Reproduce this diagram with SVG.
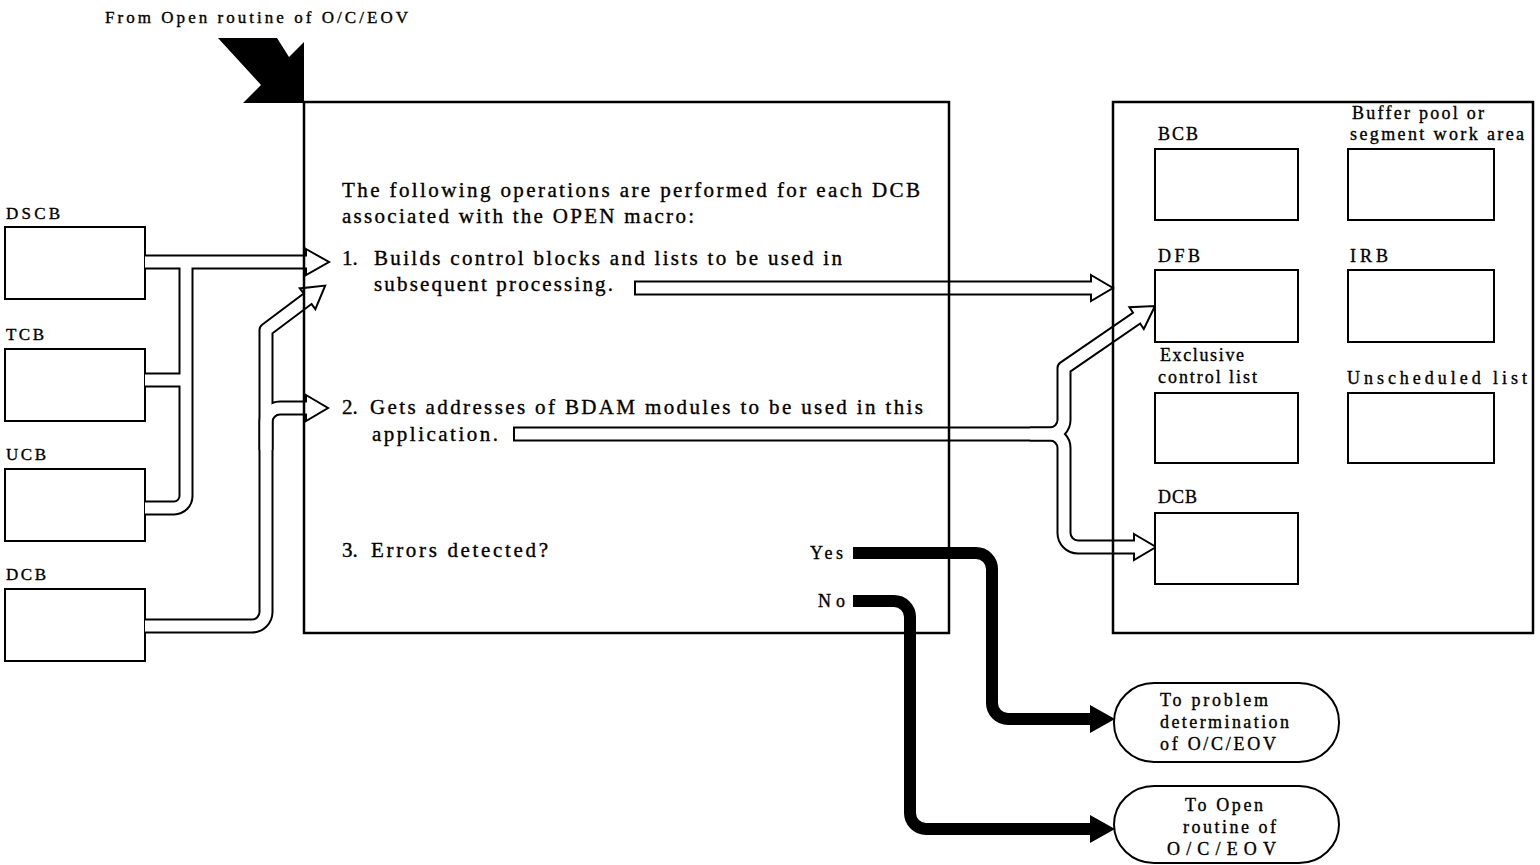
<svg xmlns="http://www.w3.org/2000/svg" width="1540" height="865" viewBox="0 0 1540 865">
<style>
text{font-family:"Liberation Serif","Times New Roman",serif;fill:#000;stroke:#000;stroke-width:0.35}
.t{font-size:21px}
.s{font-size:17px}
.m{font-size:18px}
.box{fill:none;stroke:#000;stroke-width:2.5}
.ib{fill:#fff;stroke:#000;stroke-width:2}
.po{fill:none;stroke:#000;stroke-width:15;stroke-linejoin:round}
.pi{fill:none;stroke:#fff;stroke-width:11;stroke-linejoin:round}
.hd{fill:#fff;stroke:#000;stroke-width:2;stroke-linejoin:miter}
.th{fill:none;stroke:#000;stroke-width:12}
.tk{fill:#000;stroke:none}
</style>
<rect width="1540" height="865" fill="#fff"/>

<text class="s" x="105" y="23" textLength="303" lengthAdjust="spacing">From Open routine of O/C/EOV</text>
<polygon id="entry-arrow" class="tk" points="218,38 277,38 289,57 304,42 304,103 243,103 261,85"/>

<g id="left-blocks">
  <g id="dscb"><text class="s" x="6" y="219" textLength="54" lengthAdjust="spacing">DSCB</text><rect class="ib" x="5" y="227" width="140" height="72"/></g>
  <g id="tcb"><text class="s" x="6" y="340" textLength="38" lengthAdjust="spacing">TCB</text><rect class="ib" x="5" y="349" width="140" height="72"/></g>
  <g id="ucb"><text class="s" x="6" y="460" textLength="40" lengthAdjust="spacing">UCB</text><rect class="ib" x="5" y="469" width="140" height="72"/></g>
  <g id="dcb-in"><text class="s" x="6" y="580" textLength="40" lengthAdjust="spacing">DCB</text><rect class="ib" x="5" y="589" width="140" height="72"/></g>
</g>

<g id="connectors">
  <g class="po">
    <path d="M145,262 H306"/>
    <path d="M145,380 H186"/>
    <path d="M186,262 V496 A12,12 0 0 1 174,508 H145"/>
    <path d="M145,626 H252 A14,14 0 0 0 266,612 V330 L307.6,298.8"/>
    <path d="M266,450 V422 A14,14 0 0 1 280,408 H306"/>
    <path d="M634,288 H1091"/>
    <path d="M513,434 H1050 A14,14 0 0 0 1064,420 V368 L1136.6,318.1"/>
    <path d="M1030,434 H1050 A14,14 0 0 1 1064,448 V533 A14,14 0 0 0 1078,547 H1134"/>
  </g>
  <polygon class="hd" points="306,249 329,262 306,275"/>
  <polygon class="hd" points="315.4,309.2 325.2,285.6 299.8,288.4"/>
  <polygon class="hd" points="306,395 328,408 306,421"/>
  <polygon class="hd" points="1091,275 1113,288 1091,301"/>
  <polygon class="hd" points="1143.8,329 1155,306 1129.4,307.2"/>
  <polygon class="hd" points="1134,534 1156,547 1134,560"/>
  <g class="pi">
    <path d="M145,262 H309"/>
    <path d="M145,380 H186"/>
    <path d="M186,262 V496 A12,12 0 0 1 174,508 H145"/>
    <path d="M145,626 H252 A14,14 0 0 0 266,612 V330 L310,297"/>
    <path d="M266,450 V422 A14,14 0 0 1 280,408 H309"/>
    <path d="M636,288 H1094"/>
    <path d="M515,434 H1050 A14,14 0 0 0 1064,420 V368 L1139,316.5"/>
    <path d="M1030,434 H1050 A14,14 0 0 1 1064,448 V533 A14,14 0 0 0 1078,547 H1137"/>
  </g>
  <path class="th" d="M853,553 H976 A16,16 0 0 1 992,569 V703 A16,16 0 0 0 1008,719 H1092"/>
  <polygon class="tk" points="1090,705 1115,719 1090,733"/>
  <path class="th" d="M853,601 H894 A16,16 0 0 1 910,617 V813 A16,16 0 0 0 926,829 H1092"/>
  <polygon class="tk" points="1090,815 1115,829 1090,843"/>
</g>

<g id="process">
  <rect class="box" x="304" y="102" width="645" height="531"/>
  <text class="t" x="342" y="197" textLength="578" lengthAdjust="spacing">The following operations are performed for each DCB</text>
  <text class="t" x="342" y="223" textLength="352" lengthAdjust="spacing">associated with the OPEN macro:</text>
  <text class="t" x="342" y="265">1.</text>
  <text class="t" x="374" y="265" textLength="468" lengthAdjust="spacing">Builds control blocks and lists to be used in</text>
  <text class="t" x="374" y="291" textLength="239" lengthAdjust="spacing">subsequent processing.</text>
  <text class="t" x="342" y="414">2.</text>
  <text class="t" x="370" y="414" textLength="553" lengthAdjust="spacing">Gets addresses of BDAM modules to be used in this</text>
  <text class="t" x="372" y="441" textLength="126" lengthAdjust="spacing">application.</text>
  <text class="t" x="342" y="557">3.</text>
  <text class="t" x="371" y="557" textLength="177" lengthAdjust="spacing">Errors detected?</text>
  <text class="m" x="810" y="559" textLength="33" lengthAdjust="spacing">Yes</text>
  <text class="m" x="818" y="607" textLength="27" lengthAdjust="spacing">No</text>
</g>

<g id="control-area">
  <rect class="box" x="1113" y="102" width="420" height="531"/>
  <g id="bcb"><text class="m" x="1158" y="140" textLength="40" lengthAdjust="spacing">BCB</text><rect class="ib" x="1155" y="149" width="143" height="71"/></g>
  <g id="buffer"><text class="m" x="1352" y="119" textLength="132" lengthAdjust="spacing">Buffer pool or</text><text class="m" x="1350" y="140" textLength="174" lengthAdjust="spacing">segment work area</text><rect class="ib" x="1348" y="149" width="146" height="71"/></g>
  <g id="dfb"><text class="m" x="1158" y="262" textLength="42" lengthAdjust="spacing">DFB</text><rect class="ib" x="1155" y="270" width="143" height="72"/></g>
  <g id="irb"><text class="m" x="1350" y="262" textLength="38" lengthAdjust="spacing">IRB</text><rect class="ib" x="1348" y="270" width="146" height="72"/></g>
  <g id="excl"><text class="m" x="1160" y="361" textLength="84" lengthAdjust="spacing">Exclusive</text><text class="m" x="1158" y="383" textLength="99" lengthAdjust="spacing">control list</text><rect class="ib" x="1155" y="393" width="143" height="70"/></g>
  <g id="unsched"><text class="m" x="1347" y="384" textLength="180" lengthAdjust="spacing">Unscheduled list</text><rect class="ib" x="1348" y="393" width="146" height="70"/></g>
  <g id="dcb-out"><text class="m" x="1158" y="503" textLength="39" lengthAdjust="spacing">DCB</text><rect class="ib" x="1155" y="513" width="143" height="71"/></g>
</g>

<g id="term-problem">
  <rect class="ib" x="1114" y="683" width="225" height="79" rx="40" ry="39"/>
  <text class="m" x="1160" y="706" textLength="108" lengthAdjust="spacing">To problem</text>
  <text class="m" x="1160" y="728" textLength="129" lengthAdjust="spacing">determination</text>
  <text class="m" x="1160" y="750" textLength="116" lengthAdjust="spacing">of O/C/EOV</text>
</g>
<g id="term-open">
  <rect class="ib" x="1114" y="786" width="225" height="77" rx="40" ry="39"/>
  <text class="m" x="1185" y="811" textLength="78" lengthAdjust="spacing">To Open</text>
  <text class="m" x="1183" y="833" textLength="93" lengthAdjust="spacing">routine of</text>
  <text class="m" x="1167" y="855" textLength="109" lengthAdjust="spacing">O/C/EOV</text>
</g>
</svg>
